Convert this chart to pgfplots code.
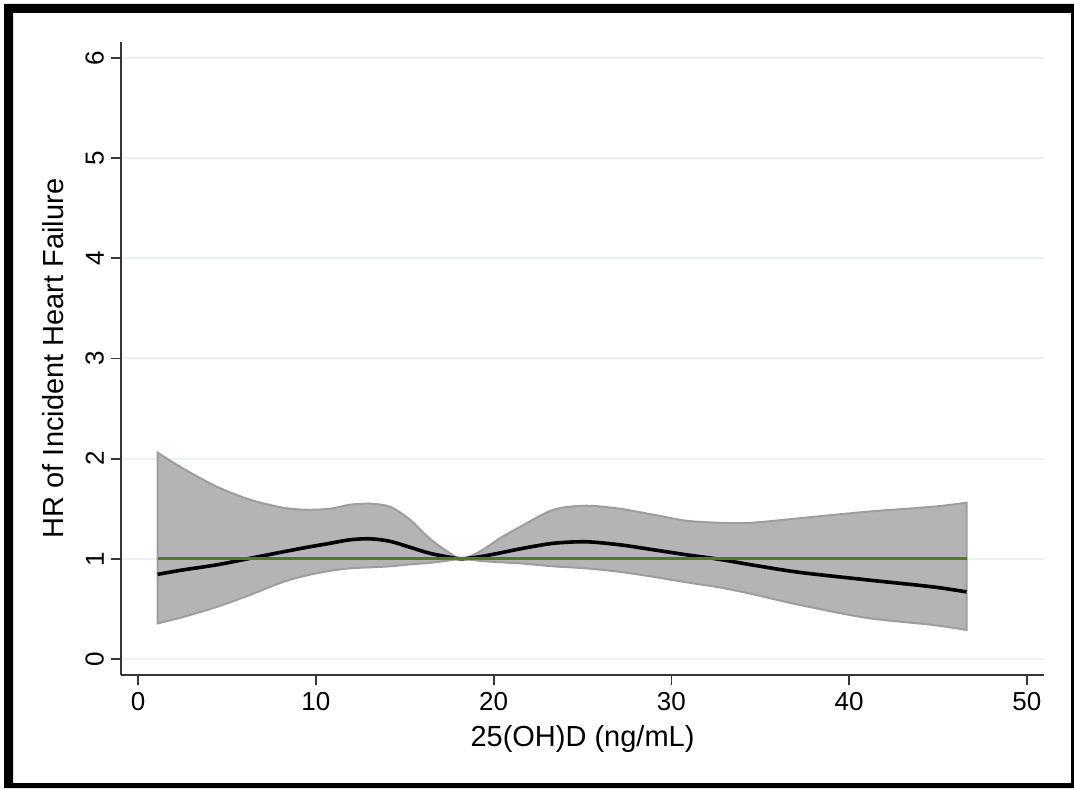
\documentclass[border=0pt]{standalone}
\usepackage{fontspec}
\setmainfont{Liberation Sans}
\usepackage{pgfplots}
\pgfplotsset{compat=1.18}
\usepgfplotslibrary{fillbetween}

\definecolor{gridc}{RGB}{234,242,243}
\definecolor{bandc}{RGB}{180,180,180}
\definecolor{edgec}{RGB}{158,158,158}
\definecolor{refc}{RGB}{85,120,40}
\definecolor{axisc}{RGB}{55,55,55}

% x, upper CI, HR, lower CI
\pgfplotstableread{
x     up     hr     lo
1.1   2.06   0.845  0.355
2.55  1.90   0.89   0.42
4.43  1.72   0.94   0.52
6.3   1.59   1.005  0.64
8.17  1.51   1.07   0.77
9.5   1.49   1.115  0.835
10.8  1.50   1.155  0.88
11.92 1.54   1.19   0.905
13.05 1.55   1.20   0.915
14.17 1.52   1.175  0.925
15.3  1.39   1.115  0.945
16.42 1.20   1.055  0.96
17.55 1.055  1.015  0.985
18.2  1.00   1.00   1.00
19.2  1.07   1.02   0.98
20.4  1.21   1.06   0.965
21.5  1.32   1.10   0.955
23.36 1.49   1.155  0.925
25.2  1.53   1.17   0.905
27.1  1.50   1.14   0.87
29.0  1.44   1.09   0.82
30.86 1.38   1.04   0.765
32.7  1.36   0.995  0.715
34.5  1.36   0.94   0.65
37.2  1.405  0.865  0.54
41.0  1.47   0.79   0.41
44.7  1.52   0.72   0.34
46.6  1.56   0.67   0.29
}\hrdata

\begin{document}
\begin{tikzpicture}
\begin{axis}[
  at={(60.5pt,56.5pt)}, anchor=south west,
  scale only axis, width=461.5pt, height=316.5pt,
  xmin=-0.96, xmax=50.96, ymin=-0.16, ymax=6.16,
  axis x line*=bottom, axis y line*=left,
  x axis line style={-}, y axis line style={-},
  axis line style={axisc, line width=0.9pt},
  xtick={0,10,...,50}, ytick={0,1,...,6},
  tick align=outside, major tick length=5pt,
  tick style={axisc, line width=0.9pt},
  ymajorgrids, grid style={gridc, line width=1pt},
  /pgf/number format/assume math mode=true,
  tick label style={font=\fontsize{13}{15}\selectfont},
  yticklabel style={rotate=90, anchor=south},
  xlabel={25(OH)D (ng/mL)},
  ylabel={HR of Incident Heart Failure},
  label style={font=\fontsize{14.5}{17}\selectfont},
  x label style={at={(axis description cs:0.5,-0.1122)}, anchor=base},
  y label style={at={(axis description cs:-0.0628,0.5)}, anchor=base},
]
\addplot[name path=up, draw=none, smooth] table[x=x, y=up] {\hrdata};
\addplot[name path=lo, draw=none, smooth] table[x=x, y=lo] {\hrdata};
\addplot[fill=bandc, draw=edgec, line width=1pt] fill between[of=up and lo];
\addplot[black, line width=1.8pt, smooth] table[x=x, y=hr] {\hrdata};
\addplot[refc, line width=1.5pt] coordinates {(1.1,1) (46.6,1)};
\end{axis}
\fill[black,even odd rule] (2pt,0pt) rectangle (537pt,392pt) (6.5pt,2.5pt) rectangle (535.5pt,387.5pt);
\useasboundingbox (0pt,0pt) rectangle (537pt,394pt);
\end{tikzpicture}
\end{document}
